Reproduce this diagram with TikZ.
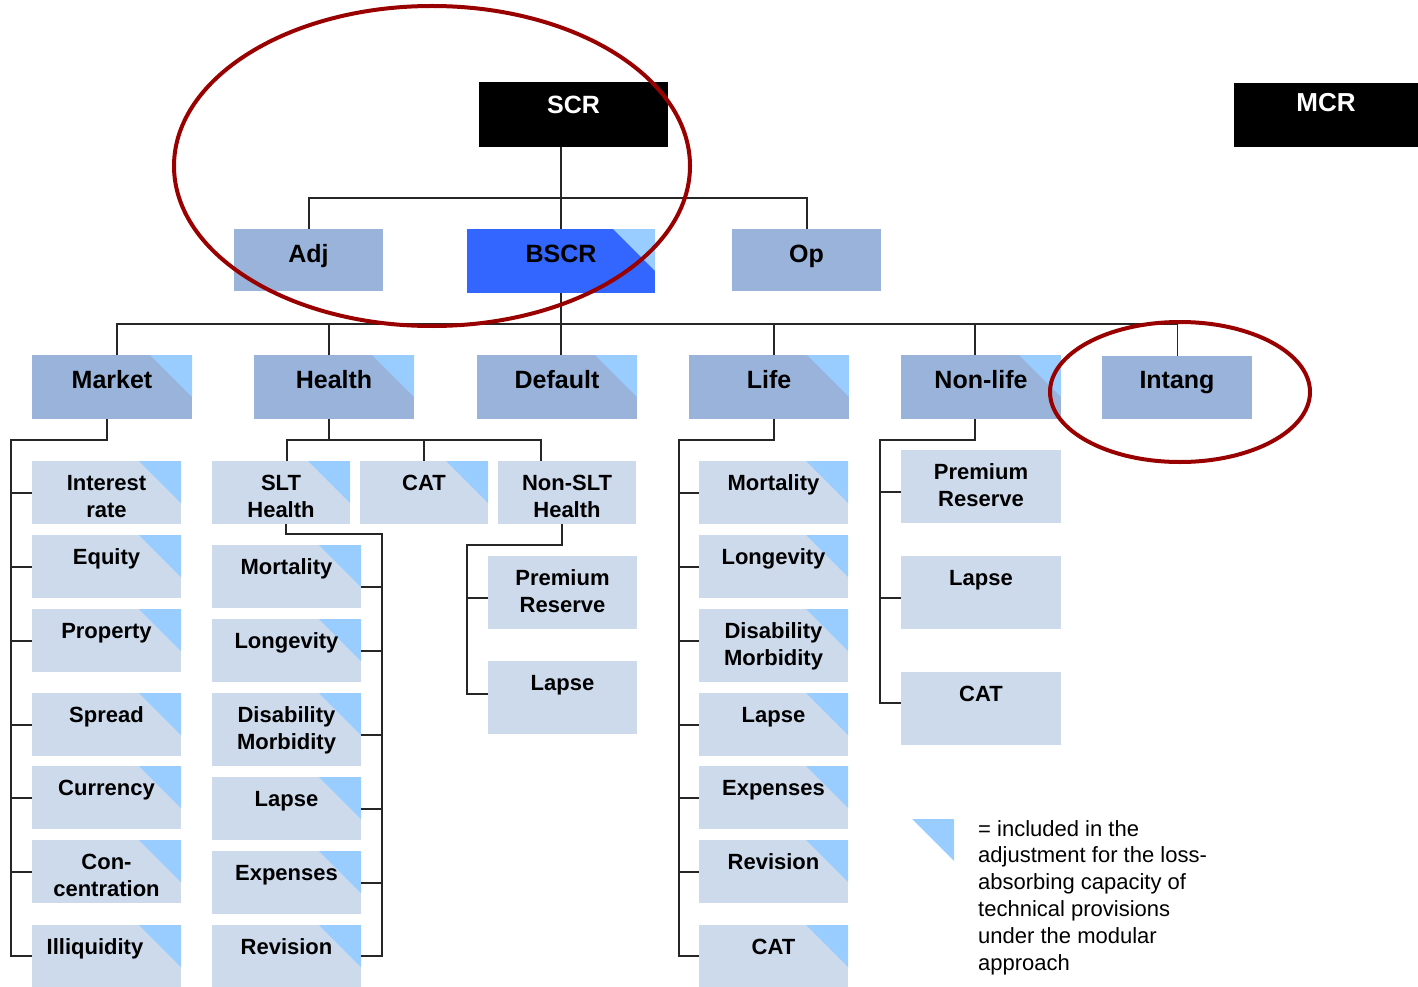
\documentclass[tikz,border=0pt]{standalone}
\usepackage{fontspec}
\setmainfont{Liberation Sans}
\usetikzlibrary{positioning}

\definecolor{modblue}{HTML}{99B3DB}
\definecolor{subblue}{HTML}{CCDAEC}
\definecolor{triblue}{HTML}{99CCFF}
\definecolor{bscrblue}{HTML}{3366FF}
\definecolor{ringred}{HTML}{990000}
\definecolor{wire}{HTML}{262626}

\tikzset{
  box/.style={rectangle, inner sep=0pt, outer sep=0pt, align=center, anchor=north west},
  top/.style={box, fill=black, text=white, font=\bfseries\fontsize{25}{30}\selectfont, text height=32pt, text depth=33pt},
  mod/.style={box, fill=modblue, font=\bfseries\fontsize{25}{30}\selectfont, minimum width=160pt, text height=33pt, text depth=31pt},
  sub/.style={box, fill=subblue, font=\bfseries\fontsize{22}{27}\selectfont, minimum width=149pt, text height=29pt, text depth=34pt},
  tall/.style={sub, text depth=44pt},
  twosub/.style={sub, text height=56pt, text depth=7pt},
  twotall/.style={sub, text height=56pt, text depth=17pt},
  lac/.style={path picture={\fill[triblue] (path picture bounding box.north east) -- ++(-42pt,0pt) -- ++(42pt,-42pt) -- cycle;}},
  conn/.style={draw=wire, line width=2pt},
  ring/.style={draw=ringred, line width=4pt},
}

\begin{document}
\begin{tikzpicture}[x=1pt, y=1pt]
\useasboundingbox (0,0) rectangle (1418,-987);

% top row
\node[top, minimum width=189pt] (scr) at (479,-82) {SCR};
\node[top, minimum width=184pt, text height=29pt, text depth=35pt, font=\bfseries\fontsize{26}{30}\selectfont] (mcr) at (1234,-83) {MCR};
\node[mod, minimum width=149pt, text depth=29pt] (adj) at (234,-229) {Adj};
\node[mod, lac, fill=bscrblue, minimum width=188pt] (bscr) at (467,-229) {BSCR};
\node[mod, minimum width=149pt, text depth=29pt] (op) at (732,-229) {Op};

% modules
\node[mod, lac] (mkt) at (32,-355) {Market};
\node[mod, lac] (hlth) at (254,-355) {Health};
\node[mod, lac] (dflt) at (477,-355) {Default};
\node[mod, lac] (life) at (689,-355) {Life};
\node[mod, lac] (nl) at (901,-355) {Non-life};
\node[mod, minimum width=150pt, text height=32pt, text depth=31pt] (intg) at (1102,-356) {Intang};

% market
\node[twosub, lac] (mir) at (32,-461) {Interest\\rate};
\node[sub, lac] (meq) at (32,-535) {Equity};
\node[sub, lac] (mpr) at (32,-609) {Property};
\node[sub, lac] (msp) at (32,-693) {Spread};
\node[sub, lac] (mcu) at (32,-766) {Currency};
\node[twosub, lac] (mco) at (32,-840) {Con-\\centration};
\node[sub, lac, text depth=33pt] (mil) at (32,-925) {Illiquidity\hspace*{23pt}};

% health
\node[twosub, lac, minimum width=138pt] (slt) at (212,-461) {SLT\\Health};
\node[sub, lac, minimum width=128pt] (cat) at (360,-461) {CAT};
\node[twosub, minimum width=138pt] (nslt) at (498,-461) {Non-SLT\\Health};
\node[sub, lac] (hmo) at (212,-545) {Mortality};
\node[sub, lac] (hlo) at (212,-619) {Longevity};
\node[twotall, lac] (hdi) at (212,-693) {Disability\\Morbidity};
\node[sub, lac] (hla) at (212,-777) {Lapse};
\node[sub, lac] (hex) at (212,-851) {Expenses};
\node[sub, lac, text depth=33pt] (hre) at (212,-925) {Revision};
\node[twotall] (nspr) at (488,-556) {Premium\\Reserve};
\node[tall] (nsla) at (488,-661) {Lapse};

% life
\node[sub, lac] (lmo) at (699,-461) {Mortality};
\node[sub, lac] (llo) at (699,-535) {Longevity};
\node[twotall, lac] (ldi) at (699,-609) {Disability\\Morbidity};
\node[sub, lac] (lla) at (699,-693) {Lapse};
\node[sub, lac] (lex) at (699,-766) {Expenses};
\node[sub, lac] (lre) at (699,-840) {Revision};
\node[sub, lac, text depth=33pt] (lca) at (699,-925) {CAT};

% non-life
\node[twotall, minimum width=160pt] (nlpr) at (901,-450) {Premium\\Reserve};
\node[tall, minimum width=160pt] (nlla) at (901,-556) {Lapse};
\node[tall, minimum width=160pt] (nlca) at (901,-672) {CAT};

% buses and rails
\coordinate (bus0) at (0,-198);
\coordinate (bus1) at (0,-324);
\coordinate (bus2) at (0,-440);
\coordinate (mrail) at (11,-440);
\coordinate (hrail) at (382,-534);
\coordinate (nrail) at (467,-545);
\coordinate (lrail) at (679,-440);
\coordinate (frail) at (880,-440);

\draw[conn] (scr.south -| bscr.north) -- (bscr.north);
\draw[conn] (adj.north) -- (adj.north |- bus0) -| (op.north);
\draw[conn] (bscr.south) -- (bscr.south |- dflt.north);
\draw[conn] ([xshift=5pt]mkt.north) -- ([xshift=5pt]mkt.north |- bus1) -- (intg.north |- bus1);
\draw[wire, line width=1pt] (intg.north |- bus1) -- (intg.north);
\draw[conn] ([xshift=-5pt]hlth.north) -- ([xshift=-5pt]hlth.north |- bus1);
\draw[conn] ([xshift=5pt]life.north) -- ([xshift=5pt]life.north |- bus1);
\draw[conn] ([xshift=-6pt]nl.north) -- ([xshift=-6pt]nl.north |- bus1);

% market rail
\draw[conn] ([xshift=-5pt]mkt.south) |- (mrail) |- (mil.west);
\foreach \n in {mir,meq,mpr,msp,mcu,mco}
  \draw[conn] (\n.west) -| (mrail);

% health
\draw[conn] ([xshift=-5pt]hlth.south) -- ([xshift=-5pt]hlth.south |- bus2);
\draw[conn] ([xshift=6pt]slt.north) |- ([xshift=-26pt]nslt.north |- bus2) -- ([xshift=-26pt]nslt.north);
\draw[conn] (cat.north) -- (cat.north |- bus2);
\draw[conn] ([xshift=5pt]slt.south) |- (hrail) |- (hre.east);
\draw[conn] ([yshift=-10pt]hmo.east) -| (hrail);
\draw[conn] (hlo.east) -| (hrail);
\draw[conn] ([yshift=-5pt]hdi.east) -| (hrail);
\draw[conn] (hla.east) -| (hrail);
\draw[conn] (hex.east) -| (hrail);
\draw[conn] ([xshift=-5pt]nslt.south) |- (nrail) |- ([yshift=4pt]nsla.west);
\draw[conn] ([yshift=-5pt]nspr.west) -| (nrail);

% life rail
\draw[conn] ([xshift=5pt]life.south) |- (lrail) |- (lca.west);
\foreach \n in {lmo,llo,lla,lex,lre}
  \draw[conn] (\n.west) -| (lrail);
\draw[conn] ([yshift=5pt]ldi.west) -| (lrail);

% non-life rail
\draw[conn] ([xshift=-6pt]nl.south) |- (frail) |- ([yshift=6pt]nlca.west);
\draw[conn] ([yshift=-5pt]nlpr.west) -| (frail);
\draw[conn] ([yshift=-5pt]nlla.west) -| (frail);

% legend
\fill[triblue] (912,-819) -- (954,-819) -- (954,-861) -- cycle;
\node[anchor=north west, inner sep=0pt, align=left, font=\fontsize{22}{26.8}\selectfont] (note) at (978,-820)
  {= included in the\\adjustment for the loss-\\absorbing capacity of\\technical provisions\\under the modular\\approach};

% circled parts
\draw[ring] (432,-166) ellipse [x radius=258, y radius=160];
\draw[ring] (1180,-392) ellipse [x radius=130, y radius=70];
\end{tikzpicture}
\end{document}
